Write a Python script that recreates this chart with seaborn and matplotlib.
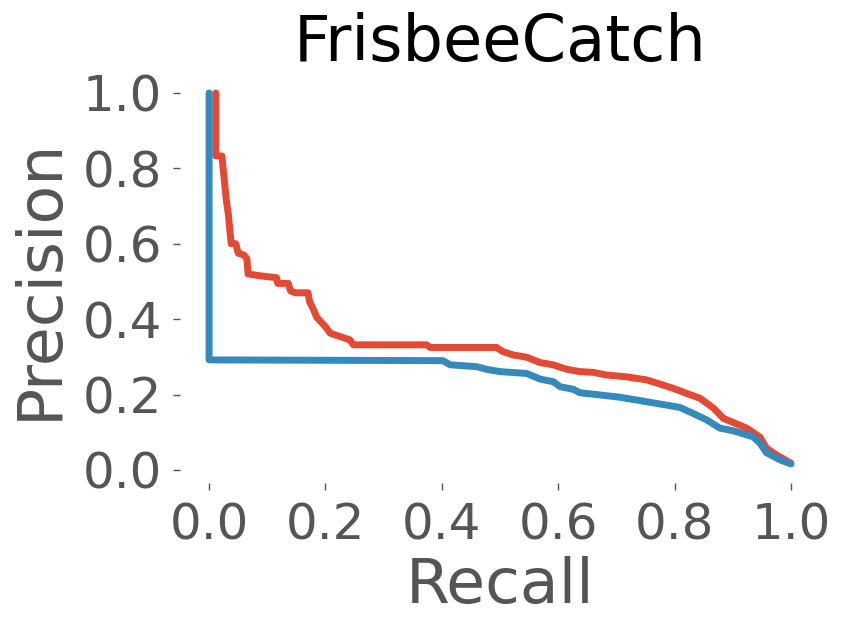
import matplotlib
matplotlib.use("Agg")
import matplotlib.pyplot as plt
import seaborn as sns
import numpy as np

title = "FrisbeeCatch"
x_label = "Recall"
y_label = "Precision"
tick_vals = [0.0, 0.2, 0.4, 0.6, 0.8, 1.0]
tick_labels = ["0.0", "0.2", "0.4", "0.6", "0.8", "1.0"]

red_recall = [0.0115, 0.0115, 0.022, 0.026, 0.030, 0.033, 0.036, 0.038, 0.046, 0.050, 0.060,
              0.065, 0.067, 0.088, 0.116, 0.118, 0.136, 0.140, 0.148, 0.170, 0.173, 0.178,
              0.185, 0.200, 0.208, 0.242, 0.248, 0.374, 0.380, 0.494, 0.505, 0.523, 0.546,
              0.569, 0.591, 0.615, 0.637, 0.660, 0.683, 0.718, 0.752, 0.775, 0.797, 0.821,
              0.844, 0.867, 0.884, 0.907, 0.924, 0.947, 0.958, 0.975, 1.0]
red_precision = [1.0, 0.833, 0.833, 0.77, 0.71, 0.68, 0.63, 0.60, 0.60, 0.575, 0.57,
                 0.56, 0.52, 0.515, 0.51, 0.495, 0.495, 0.475, 0.47, 0.47, 0.445, 0.43,
                 0.405, 0.38, 0.363, 0.345, 0.332, 0.332, 0.325, 0.325, 0.314, 0.305, 0.299,
                 0.285, 0.279, 0.267, 0.261, 0.259, 0.252, 0.247, 0.239, 0.228, 0.217, 0.203,
                 0.19, 0.164, 0.137, 0.122, 0.111, 0.087, 0.058, 0.04, 0.018]

blue_recall = [0.0, 0.0, 0.402, 0.414, 0.46, 0.477, 0.5, 0.546, 0.569, 0.592, 0.603, 0.626,
               0.637, 0.672, 0.706, 0.741, 0.775, 0.809, 0.832, 0.855, 0.878, 0.901, 0.935,
               0.947, 0.958, 0.981, 1.0]
blue_precision = [1.0, 0.292, 0.29, 0.279, 0.274, 0.267, 0.261, 0.256, 0.241, 0.234, 0.221,
                  0.214, 0.205, 0.199, 0.193, 0.184, 0.175, 0.166, 0.15, 0.133, 0.111, 0.104,
                  0.088, 0.071, 0.046, 0.027, 0.016]

sns.set_style("white")
plt.rcParams['font.family'] = ['DejaVu Sans']

fig = plt.figure(figsize=(8.47, 6.33), dpi=100)
ax = fig.add_axes([180/847, 1 - 483/633, 640/847, (483 - 74.5)/633])

sns.lineplot(x=red_recall, y=red_precision, sort=False, estimator=None,
             color="#E24A33", lw=5, ax=ax)
sns.lineplot(x=blue_recall, y=blue_precision, sort=False, estimator=None,
             color="#348ABD", lw=5, ax=ax)

ax.set_xlim(-0.05, 1.05)
ax.set_ylim(-0.0345, 1.049)
ax.set_xticks(tick_vals)
ax.set_xticklabels(tick_labels)
ax.set_yticks(tick_vals)
ax.set_yticklabels(tick_labels)
for s in ax.spines.values():
    s.set_visible(False)
ax.tick_params(axis='both', direction='out', length=5, width=1, color='#555555',
               labelcolor='#555555', labelsize=36, pad=8)
ax.tick_params(axis='both', which='both', bottom=True, left=True)
ax.set_xlabel(x_label, fontsize=45.5, color='#555555', labelpad=5)
ax.set_ylabel(y_label, fontsize=45.5, color='#555555', labelpad=9)
ax.set_title(title, fontsize=46, color='black', pad=10)
ax.grid(False)

fig.savefig("out.png", dpi=100)
